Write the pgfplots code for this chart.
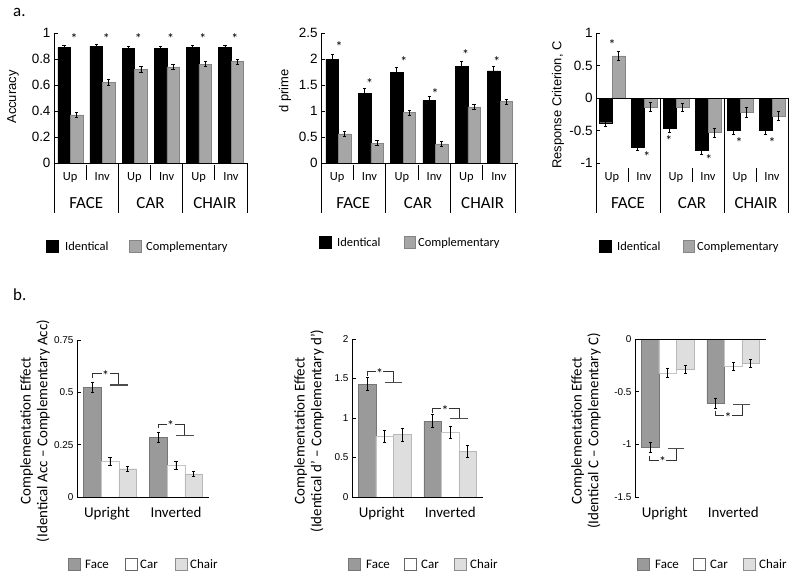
\documentclass[border=0pt]{standalone}
\usepackage{pgfplots}
\pgfplotsset{compat=1.18}
\usepackage{pgfplotstable}
\usepackage{fontspec}
\setmainfont{Carlito}
\newfontfamily\arial{Liberation Sans}
\definecolor{agray}{HTML}{A6A6A6}
\definecolor{agrayedge}{HTML}{858585}
\definecolor{facefill}{HTML}{9A9A9A}
\definecolor{faceedge}{HTML}{767676}
\definecolor{caredge}{HTML}{C4C4C4}
\definecolor{chairfill}{HTML}{DEDEDE}
\definecolor{chairedge}{HTML}{B8B8B8}
\newcommand{\fs}[1]{\fontsize{#1}{#1}\selectfont}

\pgfplotstableread{
x idm ide com coe
0 0.89 0.015 0.37 0.02
1 0.90 0.015 0.62 0.02
2 0.88 0.015 0.72 0.02
3 0.88 0.015 0.74 0.02
4 0.89 0.015 0.76 0.02
5 0.89 0.015 0.78 0.02
}\accdata
\pgfplotstableread{
x idm ide com coe
0 2.00 0.09 0.56 0.05
1 1.34 0.09 0.38 0.05
2 1.75 0.09 0.97 0.05
3 1.20 0.09 0.37 0.05
4 1.86 0.09 1.08 0.05
5 1.77 0.09 1.18 0.05
}\dpdata
\pgfplotstableread{
x idm ide com coe
0 -0.38 0.06 0.65 0.07
1 -0.75 0.06 -0.14 0.07
2 -0.47 0.06 -0.14 0.06
3 -0.80 0.06 -0.53 0.07
4 -0.50 0.06 -0.22 0.07
5 -0.50 0.06 -0.28 0.07
}\crdata
\pgfplotstableread{
x face facee car care chair chaire
0 0.525 0.025 0.17 0.02 0.135 0.013
1 0.285 0.025 0.15 0.02 0.11 0.013
}\bacc
\pgfplotstableread{
x face facee car care chair chaire
0 1.43 0.08 0.77 0.075 0.79 0.08
1 0.96 0.08 0.82 0.075 0.58 0.08
}\bdp
\pgfplotstableread{
x face facee car care chair chaire
0 -1.03 0.05 -0.32 0.04 -0.29 0.04
1 -0.61 0.05 -0.26 0.04 -0.23 0.04
}\bcr

\pgfplotsset{
  eb/.style={error bars/.cd, y dir=both, y explicit,
    error bar style={line width=0.7bp, black},
    error mark options={rotate=90, mark size=1.6bp, line width=0.7bp, black}},
  common/.style={
    scale only axis, clip=false, anchor=south west,
    axis x line=none, axis y line=left, axis line style={-, line width=0.8bp, black},
    y axis line style={-},
    xtick=\empty, tick align=inside, major tick length=4bp,
    tick style={black, line width=0.8bp},
    /pgf/number format/assume math mode=true,
    ybar,
  },
  astyle/.style={common, height=130bp, xmin=-0.5, xmax=5.5, bar width=12.5bp,
    yticklabel style={font=\fs{13.5}\arial}},
  bstyle/.style={common, xmin=-0.5, xmax=1.5, bar width=17.6bp,
    yticklabel style={font=\fs{10}\arial}},
}
% vertical line from (x,y) going down: #1 x, #2 y, #3 start offset, #4 end offset
\newcommand{\vl}[4]{\draw[line width=0.8bp] ([yshift=-#3]axis cs:#1,#2) -- ([yshift=-#4]axis cs:#1,#2);}

\begin{document}
\begin{tikzpicture}
\path (0,0) rectangle (800bp,-578bp);

% ---------------- a1 Accuracy ----------------
\begin{axis}[astyle, at={(54bp,-163bp)}, width=193bp,
  ymin=0, ymax=1, ytick={0,0.2,0.4,0.6,0.8,1}]
\addplot[fill=black, draw=black, bar shift=-6bp, eb] table[x=x,y=idm,y error=ide]{\accdata};
\addplot[fill=agray, draw=agrayedge, bar shift=6.5bp, eb] table[x=x,y=com,y error=coe]{\accdata};
\draw[line width=0.8bp] (axis cs:-0.5,0) -- (axis cs:5.5,0);
\pgfplotsinvokeforeach{0,...,5}{\node[font=\fs{14}, xshift=4bp, yshift=-2bp] at (axis cs:#1,0.97) {*};}
\vl{-0.5}{0}{0bp}{50bp}
\vl{1.5}{0}{0bp}{50bp}
\vl{3.5}{0}{0bp}{50bp}
\vl{5.5}{0}{0bp}{50bp}
\vl{0.5}{0}{2bp}{17bp}
\vl{2.5}{0}{2bp}{17bp}
\vl{4.5}{0}{2bp}{17bp}
\pgfplotsinvokeforeach{0,2,4}{\node[font=\fs{12.5}, anchor=base, inner sep=0, yshift=-17bp] at (axis cs:#1,0) {Up};}
\pgfplotsinvokeforeach{1,3,5}{\node[font=\fs{12.5}, anchor=base, inner sep=0, yshift=-17bp] at (axis cs:#1,0) {Inv};}
\node[font=\fs{17}, anchor=base, inner sep=0, yshift=-45bp] at (axis cs:0.5,0) {FACE};
\node[font=\fs{17}, anchor=base, inner sep=0, yshift=-45bp] at (axis cs:2.5,0) {CAR};
\node[font=\fs{17}, anchor=base, inner sep=0, yshift=-45bp] at (axis cs:4.5,0) {CHAIR};
\end{axis}

% ---------------- a2 d prime ----------------
\begin{axis}[astyle, at={(321bp,-163bp)}, width=194bp,
  ymin=0, ymax=2.5, ytick={0,0.5,1,1.5,2,2.5}]
\addplot[fill=black, draw=black, bar shift=-5bp, eb] table[x=x,y=idm,y error=ide]{\dpdata};
\addplot[fill=agray, draw=agrayedge, bar shift=7.5bp, eb] table[x=x,y=com,y error=coe]{\dpdata};
\draw[line width=0.8bp] (axis cs:-0.5,0) -- (axis cs:5.6,0);
\node[font=\fs{14}, yshift=-2bp] at (axis cs:0.06,2.28) {*};
\node[font=\fs{14}, yshift=-2bp] at (axis cs:1,1.57) {*};
\node[font=\fs{14}, yshift=-2bp] at (axis cs:2.06,1.99) {*};
\node[font=\fs{14}, yshift=-2bp] at (axis cs:3.03,1.38) {*};
\node[font=\fs{14}, yshift=-2bp] at (axis cs:3.97,2.13) {*};
\node[font=\fs{14}, yshift=-2bp] at (axis cs:4.94,1.99) {*};
\vl{-0.5}{0}{0bp}{50bp}
\vl{1.5}{0}{0bp}{50bp}
\vl{3.5}{0}{0bp}{50bp}
\vl{5.5}{0}{0bp}{50bp}
\vl{0.5}{0}{2bp}{17bp}
\vl{2.5}{0}{2bp}{17bp}
\vl{4.5}{0}{2bp}{17bp}
\pgfplotsinvokeforeach{0,2,4}{\node[font=\fs{12.5}, anchor=base, inner sep=0, yshift=-17bp] at (axis cs:#1,0) {Up};}
\pgfplotsinvokeforeach{1,3,5}{\node[font=\fs{12.5}, anchor=base, inner sep=0, yshift=-17bp] at (axis cs:#1,0) {Inv};}
\node[font=\fs{17}, anchor=base, inner sep=0, yshift=-45bp] at (axis cs:0.5,0) {FACE};
\node[font=\fs{17}, anchor=base, inner sep=0, yshift=-45bp] at (axis cs:2.5,0) {CAR};
\node[font=\fs{17}, anchor=base, inner sep=0, yshift=-45bp] at (axis cs:4.5,0) {CHAIR};
\end{axis}

% ---------------- a3 Response criterion ----------------
\begin{axis}[astyle, at={(596bp,-163bp)}, width=192bp,
  ymin=-1, ymax=1, ytick={-1,-0.5,0,0.5,1}]
\addplot[fill=black, draw=black, bar shift=-6.5bp, eb] table[x=x,y=idm,y error=ide]{\crdata};
\addplot[fill=agray, draw=agrayedge, bar shift=6.5bp, eb] table[x=x,y=com,y error=coe]{\crdata};
\draw[line width=0.8bp] (axis cs:-0.5,0) -- (axis cs:5.5,0);
\node[font=\fs{14}, yshift=-2bp] at (axis cs:0,0.85) {*};
\node[font=\fs{14}, yshift=-2bp] at (axis cs:1.09,-0.87) {*};
\node[font=\fs{14}, yshift=-2bp] at (axis cs:1.78,-0.62) {*};
\node[font=\fs{14}, yshift=-2bp] at (axis cs:3.03,-0.92) {*};
\node[font=\fs{14}, yshift=-2bp] at (axis cs:3.97,-0.65) {*};
\node[font=\fs{14}, yshift=-2bp] at (axis cs:5,-0.65) {*};
\vl{-0.5}{-1}{0bp}{50bp}
\vl{1.5}{0}{0bp}{115bp}
\vl{3.5}{0}{0bp}{115bp}
\vl{5.5}{0}{0bp}{115bp}
\vl{0.5}{-1}{5bp}{19bp}
\vl{2.5}{-1}{5bp}{19bp}
\vl{4.5}{-1}{5bp}{19bp}
\pgfplotsinvokeforeach{0,2,4}{\node[font=\fs{12.5}, anchor=base, inner sep=0, yshift=-17bp] at (axis cs:#1,-1) {Up};}
\pgfplotsinvokeforeach{1,3,5}{\node[font=\fs{12.5}, anchor=base, inner sep=0, yshift=-17bp] at (axis cs:#1,-1) {Inv};}
\node[font=\fs{17}, anchor=base, inner sep=0, yshift=-45bp] at (axis cs:0.5,-1) {FACE};
\node[font=\fs{17}, anchor=base, inner sep=0, yshift=-45bp] at (axis cs:2.5,-1) {CAR};
\node[font=\fs{17}, anchor=base, inner sep=0, yshift=-45bp] at (axis cs:4.5,-1) {CHAIR};
\end{axis}

% ---------------- b1 ----------------
\begin{axis}[bstyle, at={(77bp,-497bp)}, width=132bp, height=157bp,
  ymin=0, ymax=0.75, ytick={0,0.25,0.5,0.75}]
\addplot[fill=facefill, draw=faceedge, bar shift=-17.6bp, eb] table[x=x,y=face,y error=facee]{\bacc};
\addplot[fill=white, draw=caredge, bar shift=0bp, eb] table[x=x,y=car,y error=care]{\bacc};
\addplot[fill=chairfill, draw=chairedge, bar shift=17.6bp, eb] table[x=x,y=chair,y error=chaire]{\bacc};
\draw[line width=0.8bp] (axis cs:-0.5,0) -- (axis cs:1.5,0);
\draw[line width=0.9bp, black!80] (axis cs:-0.267,0.568) -- (axis cs:-0.267,0.588) -- (axis cs:0.133,0.588) -- (axis cs:0.133,0.535);
\draw[line width=1.1bp, black!70] (axis cs:0,0.535) -- (axis cs:0.267,0.535);
\node[fill=white, inner sep=0.5bp, font=\fs{14}, yshift=-2bp] at (axis cs:-0.065,0.588) {*};
\draw[line width=0.9bp, black!80] (axis cs:0.733,0.328) -- (axis cs:0.733,0.349) -- (axis cs:1.133,0.349) -- (axis cs:1.133,0.293);
\draw[line width=1.1bp, black!70] (axis cs:1,0.293) -- (axis cs:1.267,0.293);
\node[fill=white, inner sep=0.5bp, font=\fs{14}, yshift=-2bp] at (axis cs:0.92,0.349) {*};
\node[font=\fs{15}, anchor=base, inner sep=0, yshift=-20bp, xshift=-3bp] at (axis cs:0,0) {Upright};
\node[font=\fs{15}, anchor=base, inner sep=0, yshift=-20bp] at (axis cs:1,0) {Inverted};
\end{axis}

% ---------------- b2 ----------------
\begin{axis}[bstyle, at={(352bp,-497bp)}, width=131bp, height=158bp,
  ymin=0, ymax=2, ytick={0,0.5,1,1.5,2}]
\addplot[fill=facefill, draw=faceedge, bar shift=-17.5bp, eb] table[x=x,y=face,y error=facee]{\bdp};
\addplot[fill=white, draw=caredge, bar shift=0bp, eb] table[x=x,y=car,y error=care]{\bdp};
\addplot[fill=chairfill, draw=chairedge, bar shift=17.5bp, eb] table[x=x,y=chair,y error=chaire]{\bdp};
\draw[line width=0.8bp] (axis cs:-0.5,0) -- (axis cs:1.5,0);
\draw[line width=0.9bp, black!80] (axis cs:-0.267,1.532) -- (axis cs:-0.267,1.586) -- (axis cs:0.133,1.586) -- (axis cs:0.133,1.447);
\draw[line width=1.1bp, black!70] (axis cs:0,1.447) -- (axis cs:0.267,1.447);
\node[fill=white, inner sep=0.5bp, font=\fs{14}, yshift=-2bp] at (axis cs:-0.08,1.586) {*};
\draw[line width=0.9bp, black!80] (axis cs:0.733,1.068) -- (axis cs:0.733,1.123) -- (axis cs:1.133,1.123) -- (axis cs:1.133,0.996);
\draw[line width=1.1bp, black!70] (axis cs:1,0.996) -- (axis cs:1.267,0.996);
\node[fill=white, inner sep=0.5bp, font=\fs{14}, yshift=-2bp] at (axis cs:0.92,1.123) {*};
\node[font=\fs{15}, anchor=base, inner sep=0, yshift=-20bp, xshift=-3bp] at (axis cs:0,0) {Upright};
\node[font=\fs{15}, anchor=base, inner sep=0, yshift=-20bp] at (axis cs:1,0) {Inverted};
\end{axis}

% ---------------- b3 ----------------
\begin{axis}[bstyle, at={(635bp,-497bp)}, width=131bp, height=158bp,
  ymin=-1.5, ymax=0, ytick={-1.5,-1,-0.5,0}]
\addplot[fill=facefill, draw=faceedge, bar shift=-17.5bp, eb] table[x=x,y=face,y error=facee]{\bcr};
\addplot[fill=white, draw=caredge, bar shift=0bp, eb] table[x=x,y=car,y error=care]{\bcr};
\addplot[fill=chairfill, draw=chairedge, bar shift=17.5bp, eb] table[x=x,y=chair,y error=chaire]{\bcr};
\draw[line width=0.8bp] (axis cs:-0.5,0) -- (axis cs:1.5,0);
\draw[line width=0.9bp, black!80] (axis cs:-0.273,-1.108) -- (axis cs:-0.273,-1.149) -- (axis cs:0.133,-1.149) -- (axis cs:0.133,-1.038);
\draw[line width=1.1bp, black!70] (axis cs:0,-1.038) -- (axis cs:0.25,-1.038);
\node[fill=white, inner sep=0.5bp, font=\fs{14}, yshift=-2bp] at (axis cs:-0.08,-1.149) {*};
\draw[line width=0.9bp, black!80] (axis cs:0.727,-0.68) -- (axis cs:0.727,-0.728) -- (axis cs:1.133,-0.728) -- (axis cs:1.133,-0.62);
\draw[line width=1.1bp, black!70] (axis cs:1,-0.62) -- (axis cs:1.25,-0.62);
\node[fill=white, inner sep=0.5bp, font=\fs{14}, yshift=-2bp] at (axis cs:0.92,-0.728) {*};
\node[font=\fs{15}, anchor=base, inner sep=0, yshift=-20bp, xshift=-3bp] at (axis cs:0,-1.5) {Upright};
\node[font=\fs{15}, anchor=base, inner sep=0, yshift=-20bp] at (axis cs:1,-1.5) {Inverted};
\end{axis}

% ---------------- panel letters and y labels ----------------
\node[font=\fs{17}, anchor=base west, inner sep=0] at (13bp,-16bp) {a.};
\node[font=\fs{17}, anchor=base west, inner sep=0] at (13bp,-300bp) {b.};
\node[font=\fs{13}\arial, rotate=90, inner sep=0] at (13bp,-97bp) {Accuracy};
\node[font=\fs{13}\arial, rotate=90, inner sep=0] at (285bp,-91bp) {d prime};
\node[font=\fs{13}\arial, rotate=90, inner sep=0] at (558bp,-105bp) {Response Criterion, C};
\node[font=\fontsize{15}{17}\selectfont, rotate=90, align=center, inner sep=0] at (35bp,-431bp) {Complementation Effect\\(Identical Acc – Complementary Acc)};
\node[font=\fontsize{15}{17}\selectfont, rotate=90, align=center, inner sep=0] at (309bp,-431bp) {Complementation Effect\\(Identical d’ – Complementary d’)};
\node[font=\fontsize{15}{17}\selectfont, rotate=90, align=center, inner sep=0] at (586bp,-431bp) {Complementation Effect\\(Identical C – Complementary C)};

% ---------------- legends ----------------
\draw[fill=black] (46bp,-240.5bp) rectangle (58bp,-252.5bp);
\node[font=\fs{12.5}, anchor=base west, inner sep=0] at (65bp,-250.5bp) {Identical};
\draw[fill=agray, draw=agrayedge] (129bp,-240.5bp) rectangle (141bp,-252.5bp);
\node[font=\fs{12.5}, anchor=base west, inner sep=0] at (146bp,-250.5bp) {Complementary};

\draw[fill=black] (319bp,-236bp) rectangle (331bp,-248bp);
\node[font=\fs{12.5}, anchor=base west, inner sep=0] at (337bp,-246bp) {Identical};
\draw[fill=agray, draw=agrayedge] (404bp,-236bp) rectangle (415bp,-248bp);
\node[font=\fs{12.5}, anchor=base west, inner sep=0] at (418bp,-246bp) {Complementary};

\draw[fill=black] (599bp,-240bp) rectangle (611bp,-252bp);
\node[font=\fs{12.5}, anchor=base west, inner sep=0] at (617bp,-250bp) {Identical};
\draw[fill=agray, draw=agrayedge] (683bp,-240bp) rectangle (694bp,-252bp);
\node[font=\fs{12.5}, anchor=base west, inner sep=0] at (697bp,-250bp) {Complementary};

\foreach \ox/\fx/\cx/\cxt/\hx/\hxt in {68/85/125/140/175/190, 348/366/404/421/454/470, 637/655/693/710/743/759}{
  \draw[fill=facefill, draw=faceedge] (\ox bp,-558bp) rectangle ++(12bp,-12bp);
  \node[font=\fs{13}, anchor=base west, inner sep=0] at (\fx bp,-568.2bp) {Face};
  \draw[fill=white, draw=black!60] (\cx bp,-558bp) rectangle ++(12bp,-12bp);
  \node[font=\fs{13}, anchor=base west, inner sep=0] at (\cxt bp,-568.2bp) {Car};
  \draw[fill=chairfill, draw=black!45] (\hx bp,-558bp) rectangle ++(12bp,-12bp);
  \node[font=\fs{13}, anchor=base west, inner sep=0] at (\hxt bp,-568.2bp) {Chair};
}
\end{tikzpicture}
\end{document}
